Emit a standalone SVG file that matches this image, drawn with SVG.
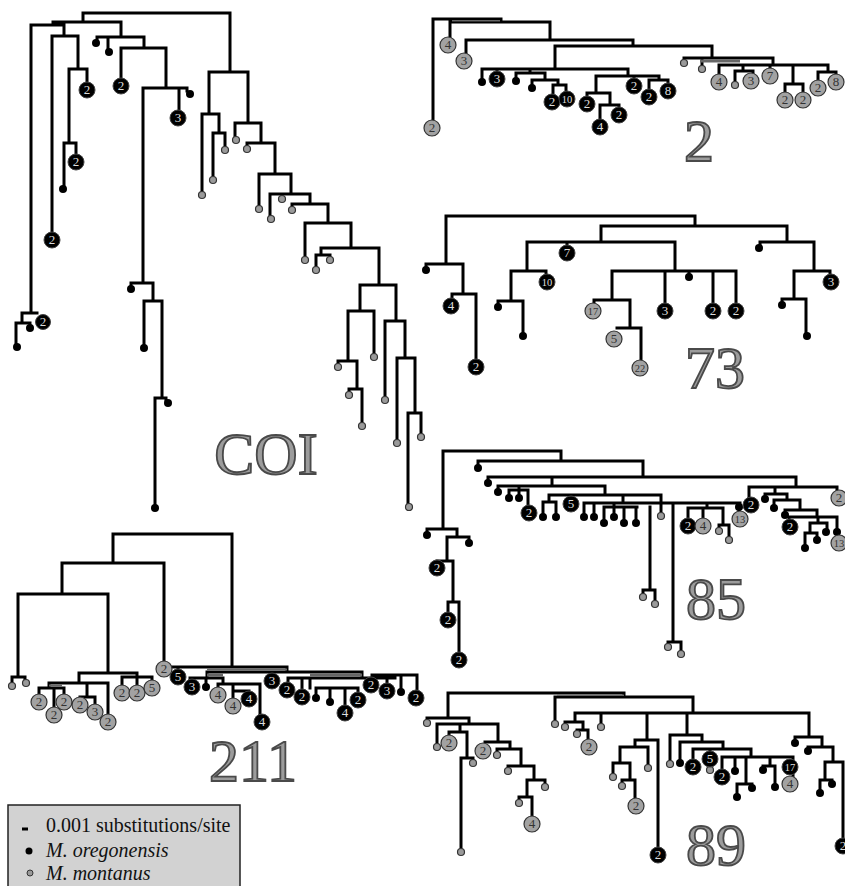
<svg xmlns="http://www.w3.org/2000/svg" width="845" height="886" viewBox="0 0 845 886">
<style>
.br{fill:none;stroke:#000;stroke-width:3;stroke-linecap:square;stroke-linejoin:miter}
.bar{fill:#666}
.bd{fill:#000}
.gd{fill:#9a9a9a;stroke:#333;stroke-width:1.2}
.bc{fill:#000;stroke:#444;stroke-width:1}
.gc{fill:#a2a2a2;stroke:#333;stroke-width:1.2}
.bt{font-family:"Liberation Serif",serif;font-size:13px;fill:#ddd;text-anchor:middle}
.gt{font-family:"Liberation Serif",serif;font-size:13px;fill:#333;text-anchor:middle}
.s{font-size:10.5px}
.lbl{font-family:"Liberation Serif",serif;font-size:60px;fill:#9c9c9c;stroke:#4a4a4a;stroke-width:1.8;text-anchor:middle}
.lg{font-family:"Liberation Serif",serif;font-size:20px;fill:#111}
</style>
<rect width="845" height="886" fill="#fff"/>
<g id="connectors">
<path id="c-coi" class="br" d="M83,13H230M83,13V22M53,22H121M53,22V25M31,25H64M31,25V313M22,313H37M22,313V323M16,323H30V325M16,323V345M64,25V36M52,36H78M52,36V232M78,36V69M69,69H87M87,69V82M69,69V143M64,143H76M76,143V154M64,143V186M121,22V37M97,37H144M97,37V40M108,37V49M144,37V48M121,48H166M121,48V78M166,48V88M143,88H187V91M179,88V110M143,88V283M131,283H153M131,283V286M153,283V301M144,301H162M144,301V345M162,301V398M155,398H166V400M155,398V505M230,13V72M209,72H248M209,72V114M202,114H219M202,114V192M219,114V133M213,133H225M213,133V177M225,133V147M248,72V123M235,123H261M235,123V137M261,123V143M247,143H275M247,143V146M275,143V174M259,174H291M259,174V206M291,174V194M270,194H310M270,194V216M282,194V196M310,194V204M292,204H328M292,204V207M328,204V223M305,223H351M305,223V257M351,223V248M321,248H379M321,248V255M316,255H330V257M316,255V267M379,248V285M360,285H396M360,285V311M348,311H374M374,311V354M348,311V361M338,361H357M338,361V364M357,361V389M349,389H362M349,389V392M362,389V423M396,285V321M385,321H405M385,321V397M405,321V358M397,358H415M397,358V440M415,358V413M408,413H421M408,413V504M421,413V434"/>
<path id="c-2" class="br" d="M433,19H501M433,19V120M450,22H550M450,22V37M550,22V40M466,40H633M466,40V53M633,40V46M555,46H712M555,46V69M482,69H628M482,69V78M497,69V71M530,69V73M516,73H545M516,73V78M545,73V80M532,80H558M532,80V85M558,80V85M553,85H566M553,85V94M566,85V91M628,69V76M596,76H659M596,76V93M587,93H610M587,93V96M610,93V105M600,105H619M600,105V119M619,105V107M634,76V78M659,76V80M649,80H668M649,80V89M668,80V83M712,46V58M684,58H773M684,58V60M702,58V66M773,58V65M719,65H828M719,65V74M743,65V71M735,71H753M735,71V82M753,71V73M770,65V68M793,65V84M785,84H803M785,84V92M803,84V92M828,65V72M818,72H836M818,72V80M836,72V74"/>
<path id="c-73" class="br" d="M446,216H695M446,216V264M426,264H463M426,264V267M463,264V294M452,294H476M452,294V298M476,294V359M695,216V226M601,226H787M601,226V242M527,242H675M567,242V245M527,242V271M511,271H546M546,271V274M511,271V301M498,301H523M498,301V304M523,301V333M675,242V271M612,271H736M612,271V300M594,300H630M594,300V303M630,300V328M617,328H641M641,328V360M665,271V303M689,271V274M713,271V303M736,271V303M787,226V242M760,242H814M760,242V245M814,242V271M794,271H830V274M794,271V299M782,299H806M782,299V302M806,299V333"/>
<path id="c-85" class="br" d="M443,451H561M443,451V529M427,529H457M427,529V532M457,529V537M447,537H469V540M447,537V561M437,561H453M453,561V602M448,602H459M448,602V612M459,602V652M561,451V461M478,461H643M478,461V465M643,461V477M488,477H796M488,477V480M552,477V486M498,486H605M498,486V489M519,486V490M509,490H528M509,490V495M519,490V495M528,490V505M605,486V495M549,495H661M549,495V502M543,502H556M543,502V513M556,502V513M661,495V512M623,495V503M584,503H740M584,503V513M594,503V513M614,503V507M604,507H637M604,507V519M614,507V513M624,507V519M636,507V519M650,507V590M643,590H655M643,590V594M655,590V600M673,503V642M668,642H681M668,642V644M681,642V650M707,503V508M688,508H723M688,508V518M703,508V518M723,508V525M719,525H729M719,525V528M729,525V536M739,503V511M796,477V487M749,487H837M749,487V497M837,487V490M775,487V494M765,494H787M765,494V496M787,494V500M774,500H800M774,500V505M800,500V510M785,510H817M785,510V512M817,510V517M789,517H837M789,517V519M818,517V523M810,523H827M827,523V528M810,523V533M805,533H817M805,533V544M817,533V537M837,517V535"/>
<path id="c-211" class="br" d="M113,534H232M113,534V563M62,563H164M62,563V594M18,594H108M18,594V677M12,677H25M12,677V682M25,677V680M108,594V673M79,673H137M79,673V683M49,683H108M49,683V688M39,688H64M39,688V694M54,688V707M64,688V694M87,683V697M80,697H95M95,697V704M108,683V714M137,673V677M122,677H152M122,677V685M137,677V685M152,677V680M164,563V661M232,534V667M173,667H287M178,667V669M287,667V672M207,672H362M207,672V678M190,678H223M190,678V680M206,678V683M223,678V684M218,684H260M218,684V687M233,684V691M233,691H249M233,691V698M249,691V692M260,684V714M272,672V674M362,672V678M288,678H395M288,678V682M302,678V689M310,678V688M316,688H358M316,688V694M330,688V698M345,688V705M358,688V692M395,678V675M372,675H417M372,675V677M387,675V683M401,675V688M417,675V690"/>
<path id="c-89" class="br" d="M448,693H624M555,697H693M624,693V697M448,693V718M427,718H469M427,718V720M469,718V724M437,724H498M437,724V744M460,724V732M449,732H467M449,732V735M467,732V758M461,758H473M461,758V849M473,758V760M498,724V742M485,742H510M510,742V749M497,749H521M497,749V752M521,749V766M508,766H534M508,766V768M534,766V780M527,780H545M545,780V784M527,780V797M519,797H532M519,797V800M532,797V816M555,697V721M693,697V713M575,713H809M575,713V722M565,722H583M565,722V724M583,722V730M577,730H588M577,730V731M588,730V739M601,713V724M647,713V740M635,740H658M658,740V847M635,740V747M620,747H648M648,747V765M620,747V763M613,763H630M613,763V774M630,763V780M622,780H635M622,780V783M635,780V798M687,713V735M670,735H702M670,735V761M702,735V742M680,742H723M680,742V760M723,742V749M693,749H751M693,749V759M710,749V751M751,749V757M722,757H793M722,757V769M735,757V768M746,757V784M737,784H752M737,784V794M752,784V785M770,757V766M763,766H775M763,766V767M775,766V784M793,757V776M809,713V737M795,737H822M795,737V740M822,737V747M808,747H833M808,747V748M833,747V762M825,762H843M825,762V780M820,780H832M820,780V790M832,780V781M843,762V838"/>
<rect class="bar" x="452" y="20" width="48" height="1.5"/>
<rect class="bar" x="700" y="59.5" width="40" height="3"/>
<rect class="bar" x="207" y="668.5" width="80" height="2"/>
<rect class="bar" x="207" y="673.5" width="16" height="3"/>
<rect class="bar" x="310" y="673.5" width="52" height="3"/>
<rect class="bar" x="49" y="684.5" width="13" height="2"/>
<rect class="bar" x="557" y="694.5" width="67" height="1.5"/>
</g>
<g id="tree-COI">
<circle class="bc" cx="43" cy="322" r="7.5"/><text class="bt" x="43" y="326">2</text>
<circle class="bd" cx="30" cy="328" r="4"/>
<circle class="bd" cx="17" cy="347" r="4"/>
<circle class="bc" cx="52" cy="240" r="8"/><text class="bt" x="52" y="244">2</text>
<circle class="bc" cx="87" cy="90" r="8"/><text class="bt" x="87" y="94">2</text>
<circle class="bc" cx="76" cy="162" r="8"/><text class="bt" x="76" y="166">2</text>
<circle class="bd" cx="63" cy="189" r="4"/>
<circle class="bd" cx="96" cy="43" r="4"/>
<circle class="bd" cx="109" cy="52" r="4"/>
<circle class="bc" cx="121" cy="86" r="8"/><text class="bt" x="121" y="90">2</text>
<circle class="bd" cx="190" cy="94" r="4"/>
<circle class="bc" cx="178" cy="118" r="8"/><text class="bt" x="178" y="122">3</text>
<circle class="bd" cx="131" cy="289" r="4"/>
<circle class="bd" cx="144" cy="348" r="4"/>
<circle class="bd" cx="168" cy="403" r="4"/>
<circle class="bd" cx="155" cy="508" r="4"/>
<circle class="gd" cx="202" cy="195" r="3.5"/>
<circle class="gd" cx="213" cy="180" r="3.5"/>
<circle class="gd" cx="225" cy="150" r="3.5"/>
<circle class="gd" cx="236" cy="140" r="3.5"/>
<circle class="gd" cx="247" cy="149" r="3.5"/>
<circle class="gd" cx="259" cy="209" r="3.5"/>
<circle class="gd" cx="271" cy="219" r="3.5"/>
<circle class="gd" cx="282" cy="199" r="3.5"/>
<circle class="gd" cx="292" cy="210" r="3.5"/>
<circle class="gd" cx="305" cy="260" r="3.5"/>
<circle class="gd" cx="330" cy="260" r="3.5"/>
<circle class="gd" cx="316" cy="270" r="3.5"/>
<circle class="gd" cx="374" cy="357" r="3.5"/>
<circle class="gd" cx="338" cy="367" r="3.5"/>
<circle class="gd" cx="349" cy="395" r="3.5"/>
<circle class="gd" cx="362" cy="426" r="3.5"/>
<circle class="gd" cx="385" cy="400" r="3.5"/>
<circle class="gd" cx="397" cy="443" r="3.5"/>
<circle class="gd" cx="409" cy="507" r="3.5"/>
<circle class="gd" cx="421" cy="437" r="3.5"/>
<text class="lbl" x="266" y="474">COI</text>
</g>
<g id="tree-2">
<circle class="gc" cx="432" cy="128" r="8"/><text class="gt" x="432" y="132">2</text>
<circle class="gc" cx="448" cy="45" r="8"/><text class="gt" x="448" y="49">4</text>
<circle class="gc" cx="464" cy="61" r="8"/><text class="gt" x="464" y="65">3</text>
<circle class="bd" cx="482" cy="82" r="4"/>
<circle class="bc" cx="497" cy="79" r="8"/><text class="bt" x="497" y="83">3</text>
<circle class="bd" cx="516" cy="81" r="4"/>
<circle class="bd" cx="532" cy="88" r="4"/>
<circle class="bc" cx="552" cy="102" r="8"/><text class="bt" x="552" y="106">2</text>
<circle class="bc" cx="567" cy="99" r="8"/><text class="bt s" x="567" y="103">10</text>
<circle class="bc" cx="587" cy="104" r="8"/><text class="bt" x="587" y="108">2</text>
<circle class="bc" cx="600" cy="127" r="8"/><text class="bt" x="600" y="131">4</text>
<circle class="bc" cx="619" cy="115" r="8"/><text class="bt" x="619" y="119">2</text>
<circle class="bc" cx="634" cy="86" r="8"/><text class="bt" x="634" y="90">2</text>
<circle class="bc" cx="649" cy="97" r="8"/><text class="bt" x="649" y="101">2</text>
<circle class="bc" cx="668" cy="91" r="8"/><text class="bt" x="668" y="95">8</text>
<circle class="gd" cx="684" cy="63" r="3.5"/>
<circle class="gd" cx="702" cy="69" r="3.5"/>
<circle class="gc" cx="719" cy="82" r="8"/><text class="gt" x="719" y="86">4</text>
<circle class="gd" cx="735" cy="85" r="3.5"/>
<circle class="gc" cx="751" cy="81" r="8"/><text class="gt" x="751" y="85">3</text>
<circle class="gc" cx="770" cy="76" r="8"/><text class="gt" x="770" y="80">7</text>
<circle class="gc" cx="785" cy="100" r="8"/><text class="gt" x="785" y="104">2</text>
<circle class="gc" cx="803" cy="100" r="8"/><text class="gt" x="803" y="104">2</text>
<circle class="gc" cx="818" cy="88" r="8"/><text class="gt" x="818" y="92">2</text>
<circle class="gc" cx="836" cy="82" r="8"/><text class="gt" x="836" y="86">8</text>
<text class="lbl" x="699" y="161">2</text>
</g>
<g id="tree-73">
<circle class="bd" cx="426" cy="270" r="4"/>
<circle class="bc" cx="451" cy="306" r="8"/><text class="bt" x="451" y="310">4</text>
<circle class="bc" cx="476" cy="367" r="8"/><text class="bt" x="476" y="371">2</text>
<circle class="bc" cx="567" cy="253" r="8"/><text class="bt" x="567" y="257">7</text>
<circle class="bc" cx="547" cy="282" r="8"/><text class="bt s" x="547" y="286">10</text>
<circle class="bd" cx="498" cy="307" r="4"/>
<circle class="bd" cx="523" cy="336" r="4"/>
<circle class="gc" cx="593" cy="311" r="8"/><text class="gt s" x="593" y="315">17</text>
<circle class="gc" cx="614" cy="339" r="8"/><text class="gt" x="614" y="343">5</text>
<circle class="gc" cx="640" cy="368" r="8"/><text class="gt s" x="640" y="372">22</text>
<circle class="bc" cx="665" cy="311" r="8"/><text class="bt" x="665" y="315">3</text>
<circle class="bd" cx="689" cy="277" r="4"/>
<circle class="bc" cx="713" cy="311" r="8"/><text class="bt" x="713" y="315">2</text>
<circle class="bc" cx="736" cy="311" r="8"/><text class="bt" x="736" y="315">2</text>
<circle class="bd" cx="759" cy="248" r="4"/>
<circle class="bc" cx="831" cy="282" r="8"/><text class="bt" x="831" y="286">3</text>
<circle class="bd" cx="782" cy="305" r="4"/>
<circle class="bd" cx="807" cy="336" r="4"/>
<text class="lbl" x="715" y="388">73</text>
</g>
<g id="tree-85">
<circle class="bd" cx="427" cy="535" r="4"/>
<circle class="bd" cx="469" cy="543" r="4"/>
<circle class="bc" cx="437" cy="568" r="8"/><text class="bt" x="437" y="572">2</text>
<circle class="bc" cx="448" cy="620" r="8"/><text class="bt" x="448" y="624">2</text>
<circle class="bc" cx="459" cy="660" r="8"/><text class="bt" x="459" y="664">2</text>
<circle class="bd" cx="478" cy="468" r="4"/>
<circle class="bd" cx="488" cy="483" r="4"/>
<circle class="bd" cx="498" cy="492" r="4"/>
<circle class="bd" cx="509" cy="498" r="4"/>
<circle class="bd" cx="519" cy="498" r="4"/>
<circle class="bc" cx="529" cy="513" r="8"/><text class="bt" x="529" y="517">2</text>
<circle class="bd" cx="543" cy="517" r="4"/>
<circle class="bd" cx="556" cy="517" r="4"/>
<circle class="bc" cx="571" cy="504" r="8"/><text class="bt" x="571" y="508">5</text>
<circle class="gd" cx="661" cy="516" r="3.5"/>
<circle class="bd" cx="584" cy="517" r="4"/>
<circle class="bd" cx="594" cy="517" r="4"/>
<circle class="bd" cx="604" cy="523" r="4"/>
<circle class="bd" cx="614" cy="517" r="4"/>
<circle class="bd" cx="624" cy="523" r="4"/>
<circle class="bd" cx="636" cy="523" r="4"/>
<circle class="gd" cx="643" cy="597" r="3.5"/>
<circle class="gd" cx="655" cy="604" r="3.5"/>
<circle class="gd" cx="668" cy="647" r="3.5"/>
<circle class="gd" cx="681" cy="654" r="3.5"/>
<circle class="bc" cx="688" cy="526" r="8"/><text class="bt" x="688" y="530">2</text>
<circle class="gc" cx="703" cy="526" r="8"/><text class="gt" x="703" y="530">4</text>
<circle class="gd" cx="719" cy="531" r="3.5"/>
<circle class="gd" cx="729" cy="540" r="3.5"/>
<circle class="gc" cx="740" cy="519" r="8"/><text class="gt s" x="740" y="523">13</text>
<circle class="bd" cx="739" cy="507" r="4"/>
<circle class="bc" cx="751" cy="505" r="8"/><text class="bt" x="751" y="509">2</text>
<circle class="gc" cx="839" cy="498" r="8"/><text class="gt" x="839" y="502">2</text>
<circle class="bd" cx="765" cy="499" r="4"/>
<circle class="bd" cx="774" cy="508" r="4"/>
<circle class="bd" cx="785" cy="515" r="4"/>
<circle class="bc" cx="790" cy="527" r="8"/><text class="bt" x="790" y="531">2</text>
<circle class="bd" cx="826" cy="532" r="4"/>
<circle class="bd" cx="805" cy="548" r="4"/>
<circle class="bd" cx="817" cy="540" r="4"/>
<circle class="bd" cx="837" cy="532" r="4"/>
<circle class="gc" cx="839" cy="543" r="8"/><text class="gt s" x="839" y="547">13</text>
<text class="lbl" x="716" y="619">85</text>
</g>
<g id="tree-211">
<circle class="gd" cx="12" cy="686" r="3.5"/>
<circle class="gd" cx="26" cy="683" r="3.5"/>
<circle class="gc" cx="39" cy="702" r="8"/><text class="gt" x="39" y="706">2</text>
<circle class="gc" cx="54" cy="715" r="8"/><text class="gt" x="54" y="719">2</text>
<circle class="gc" cx="64" cy="702" r="8"/><text class="gt" x="64" y="706">2</text>
<circle class="gc" cx="80" cy="705" r="8"/><text class="gt" x="80" y="709">2</text>
<circle class="gc" cx="95" cy="712" r="8"/><text class="gt" x="95" y="716">3</text>
<circle class="gc" cx="108" cy="722" r="8"/><text class="gt" x="108" y="726">2</text>
<circle class="gc" cx="122" cy="693" r="8"/><text class="gt" x="122" y="697">2</text>
<circle class="gc" cx="137" cy="693" r="8"/><text class="gt" x="137" y="697">2</text>
<circle class="gc" cx="152" cy="688" r="8"/><text class="gt" x="152" y="692">5</text>
<circle class="gc" cx="164" cy="669" r="8"/><text class="gt" x="164" y="673">2</text>
<circle class="bc" cx="178" cy="677" r="8"/><text class="bt" x="178" y="681">5</text>
<circle class="bc" cx="192" cy="687" r="8"/><text class="bt" x="192" y="691">3</text>
<circle class="bd" cx="206" cy="687" r="4"/>
<circle class="gc" cx="218" cy="695" r="8"/><text class="gt" x="218" y="699">4</text>
<circle class="gc" cx="233" cy="706" r="8"/><text class="gt" x="233" y="710">4</text>
<circle class="bc" cx="249" cy="699" r="8"/><text class="bt" x="249" y="703">4</text>
<circle class="bc" cx="262" cy="722" r="8"/><text class="bt" x="262" y="726">4</text>
<circle class="bc" cx="272" cy="681" r="8"/><text class="bt" x="272" y="685">3</text>
<circle class="bc" cx="287" cy="690" r="8"/><text class="bt" x="287" y="694">2</text>
<circle class="bc" cx="302" cy="697" r="8"/><text class="bt" x="302" y="701">2</text>
<circle class="bd" cx="316" cy="698" r="4"/>
<circle class="bd" cx="330" cy="702" r="4"/>
<circle class="bc" cx="345" cy="713" r="8"/><text class="bt" x="345" y="717">4</text>
<circle class="bc" cx="358" cy="700" r="8"/><text class="bt" x="358" y="704">2</text>
<circle class="bc" cx="371" cy="685" r="8"/><text class="bt" x="371" y="689">2</text>
<circle class="bc" cx="387" cy="691" r="8"/><text class="bt" x="387" y="695">3</text>
<circle class="bd" cx="401" cy="692" r="4"/>
<circle class="bc" cx="416" cy="698" r="8"/><text class="bt" x="416" y="702">2</text>
<text class="lbl" x="253" y="781">211</text>
</g>
<g id="tree-89">
<circle class="gd" cx="427" cy="723" r="3.5"/>
<circle class="gd" cx="437" cy="747" r="3.5"/>
<circle class="gc" cx="449" cy="743" r="8"/><text class="gt" x="449" y="747">2</text>
<circle class="gd" cx="461" cy="852" r="3.5"/>
<circle class="gd" cx="473" cy="763" r="3.5"/>
<circle class="gc" cx="483" cy="751" r="8"/><text class="gt" x="483" y="755">2</text>
<circle class="gd" cx="497" cy="755" r="3.5"/>
<circle class="gd" cx="508" cy="771" r="3.5"/>
<circle class="gd" cx="545" cy="787" r="3.5"/>
<circle class="gd" cx="519" cy="803" r="3.5"/>
<circle class="gc" cx="532" cy="824" r="8"/><text class="gt" x="532" y="828">4</text>
<circle class="gd" cx="555" cy="724" r="3.5"/>
<circle class="gd" cx="565" cy="727" r="3.5"/>
<circle class="gd" cx="577" cy="734" r="3.5"/>
<circle class="gc" cx="589" cy="747" r="8"/><text class="gt" x="589" y="751">2</text>
<circle class="gd" cx="601" cy="727" r="3.5"/>
<circle class="bc" cx="658" cy="855" r="8"/><text class="bt" x="658" y="859">2</text>
<circle class="gd" cx="648" cy="768" r="3.5"/>
<circle class="gd" cx="613" cy="777" r="3.5"/>
<circle class="gd" cx="622" cy="786" r="3.5"/>
<circle class="gc" cx="636" cy="806" r="8"/><text class="gt" x="636" y="810">2</text>
<circle class="gd" cx="670" cy="764" r="3.5"/>
<circle class="bd" cx="680" cy="763" r="4"/>
<circle class="bc" cx="693" cy="767" r="8"/><text class="bt" x="693" y="771">2</text>
<circle class="gd" cx="710" cy="770" r="3.5"/>
<circle class="bc" cx="710" cy="759" r="8"/><text class="bt" x="710" y="763">5</text>
<circle class="bc" cx="722" cy="777" r="8"/><text class="bt" x="722" y="781">2</text>
<circle class="bd" cx="735" cy="771" r="4"/>
<circle class="bd" cx="737" cy="797" r="4"/>
<circle class="bd" cx="752" cy="788" r="4"/>
<circle class="bd" cx="763" cy="770" r="4"/>
<circle class="bd" cx="775" cy="787" r="4"/>
<circle class="gc" cx="790" cy="784" r="8"/><text class="gt" x="790" y="788">4</text>
<circle class="bc" cx="790" cy="767" r="8"/><text class="bt s" x="790" y="771">17</text>
<circle class="bd" cx="795" cy="743" r="4"/>
<circle class="bd" cx="808" cy="751" r="4"/>
<circle class="bd" cx="820" cy="793" r="4"/>
<circle class="bd" cx="832" cy="784" r="4"/>
<circle class="bc" cx="843" cy="846" r="8"/><text class="bt" x="843" y="850">2</text>
<text class="lbl" x="716" y="865">89</text>
</g>
<g id="legend">
<rect x="8" y="805" width="232" height="90" fill="#d2d2d2" stroke="#222" stroke-width="1.5"/>
<rect x="22" y="827.5" width="6" height="3" fill="#000"/>
<text class="lg" x="46" y="832">0.001 substitutions/site</text>
<circle cx="29" cy="851" r="3.5" fill="#000"/>
<text class="lg" x="46" y="857" font-style="italic">M. oregonensis</text>
<circle cx="30" cy="873" r="3" fill="#999" stroke="#333" stroke-width="1"/>
<text class="lg" x="46" y="880" font-style="italic">M. montanus</text>
</g>
</svg>
